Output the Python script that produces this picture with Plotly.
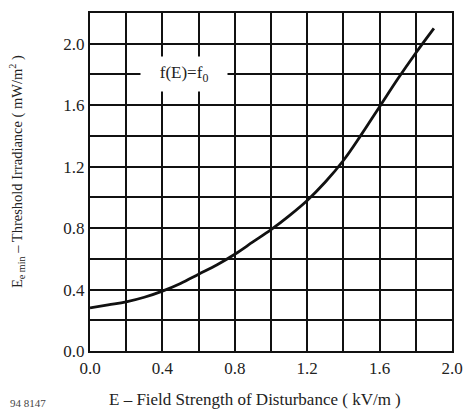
import plotly.graph_objects as go

# Field strength of disturbance (kV/m) and threshold irradiance (mW/m²)
field_strength = [0.0, 0.1, 0.2, 0.3, 0.4, 0.5, 0.6, 0.7, 0.8, 0.9, 1.0,
                  1.1, 1.2, 1.3, 1.4, 1.5, 1.6, 1.7, 1.8, 1.9]
threshold_irradiance = [0.28, 0.30, 0.32, 0.35, 0.39, 0.44, 0.50, 0.56, 0.63, 0.71, 0.79,
                        0.88, 0.98, 1.10, 1.24, 1.41, 1.59, 1.77, 1.94, 2.10]

x_ticks = [0.0, 0.4, 0.8, 1.2, 1.6, 2.0]
y_ticks = [0.0, 0.4, 0.8, 1.2, 1.6, 2.0]
x_grid = [0.0, 0.2, 0.4, 0.6, 0.8, 1.0, 1.2, 1.4, 1.6, 1.8, 2.0]
y_grid = [0.0, 0.2, 0.4, 0.6, 0.8, 1.0, 1.2, 1.4, 1.6, 1.8, 2.0, 2.2]

FONT = "Liberation Serif"
INK = "#111"
TEXT = "#222"

fig = go.Figure()
fig.add_trace(go.Scatter(
    x=field_strength, y=threshold_irradiance, mode="lines",
    line=dict(color=INK, width=2.8, shape="spline", smoothing=1.1),
    showlegend=False, hoverinfo="skip",
))

axis_common = dict(
    showgrid=True, gridcolor=INK, gridwidth=1.6,
    showline=True, linecolor=INK, linewidth=2.2, mirror=True,
    zeroline=False, ticks="", tickfont=dict(family=FONT, size=17, color=TEXT),
)

fig.update_xaxes(range=[0, 2.0], tickvals=x_ticks, ticktext=[f"{v:.1f}" for v in x_ticks],
                 minor=dict(tickvals=x_grid, showgrid=True, gridcolor=INK, gridwidth=1.6),
                 **axis_common)
fig.update_yaxes(range=[0, 2.2], tickvals=y_ticks, ticktext=[f"{v:.1f}" for v in y_ticks],
                 minor=dict(tickvals=y_grid, showgrid=True, gridcolor=INK, gridwidth=1.6),
                 **axis_common)

# curve label sitting on a white patch over the grid
fig.add_annotation(x=0.52, y=1.8, xref="x", yref="y",
                   text="&nbsp;&nbsp;&nbsp;f(E)=f<sub>0</sub>&nbsp;&nbsp;&nbsp;",
                   showarrow=False, bgcolor="white", borderpad=6,
                   font=dict(family=FONT, size=17, color=TEXT))

# axis titles placed relative to the 373x340 plot area
fig.add_annotation(x=-75 / 373, y=0.53, xref="paper", yref="paper", xanchor="center",
                   text="E<sub>e min</sub> – Threshold Irradiance ( mW/m<sup>2</sup> )",
                   textangle=-90, showarrow=False,
                   font=dict(family=FONT, size=14.5, color=TEXT))
fig.add_annotation(x=170 / 373, y=-49 / 340, xref="paper", yref="paper",
                   xanchor="center", yanchor="middle",
                   text="E – Field Strength of Disturbance ( kV/m )", showarrow=False,
                   font=dict(family=FONT, size=17, color=TEXT))
fig.add_annotation(x=-84 / 373, y=-52 / 340, xref="paper", yref="paper",
                   xanchor="left", yanchor="middle",
                   text="94 8147", showarrow=False,
                   font=dict(family=FONT, size=11, color="#444"))

fig.update_layout(
    width=474, height=414,
    margin=dict(l=90, r=11, t=11, b=63),
    paper_bgcolor="white", plot_bgcolor="white",
    font=dict(family=FONT),
)

fig.write_html("out.html")
